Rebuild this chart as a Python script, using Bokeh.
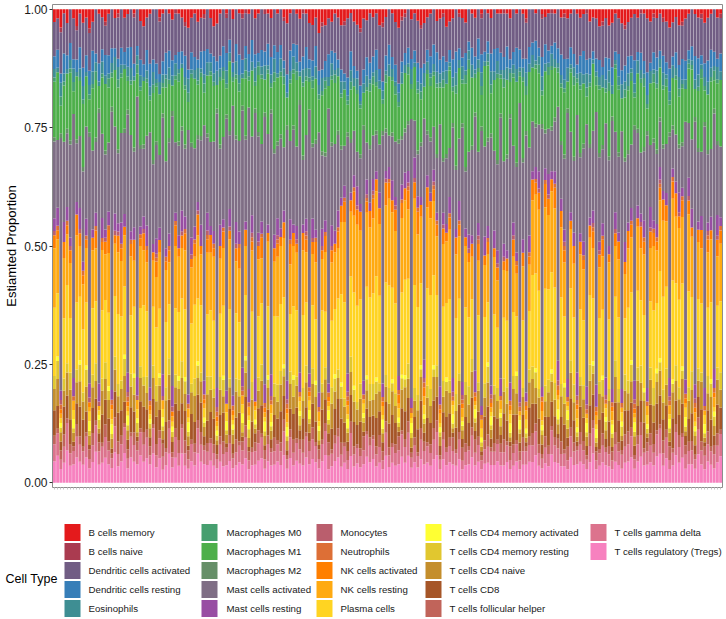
from bokeh.plotting import figure
from bokeh.models import Range1d, FixedTicker, ColumnDataSource, NumeralTickFormatter
from bokeh.layouts import column
from bokeh.embed import file_html
from bokeh.resources import INLINE
from bokeh.core.properties import value

cell_types = [
    "B cells memory", "B cells naive", "Dendritic cells activated", "Dendritic cells resting",
    "Eosinophils", "Macrophages M0", "Macrophages M1", "Macrophages M2",
    "Mast cells activated", "Mast cells resting", "Monocytes", "Neutrophils",
    "NK cells activated", "NK cells resting", "Plasma cells", "T cells CD4 memory activated",
    "T cells CD4 memory resting", "T cells CD4 naive", "T cells CD8", "T cells follicular helper",
    "T cells gamma delta", "T cells regulatory (Tregs)",
]
colors = [
    "#E41A1C", "#AA3B50", "#715D84", "#377EB8", "#3E8E93", "#469F6F", "#4DAF4A", "#668F68",
    "#7F6E85", "#984EA3", "#BA5E6D", "#DD6F36", "#FF7F00", "#FFAA11", "#FFD422", "#FFFF33",
    "#E1C72F", "#C48E2C", "#A65628", "#C1645A", "#DC738D", "#F781BF",
]

# estimated proportions per sample (percent, rescaled per sample)
b_memory = [
    3,2,4,1,3,0,2,4,1,3, 2,4,3,0,1,2,3,1,0,2, 1,0,2,1,0,1,0,3,4,2, 1,0,0,2,1,0,1,2,0,1,
    2,3,4,2,1,3,2,1,0,2, 4,3,1,0,1,0,2,0,1,1, 0,1,0,2,1,0,0,1,2,0, 1,0,2,3,1,0,1,2,0,1,
    3,4,2,5,3,4,2,3,1,2, 4,3,2,1,3,4,5,2,3,1, 2,1,4,3,2,0,1,3,4,2, 1,0,2,1,3,4,3,2,1,0,
    3,2,1,4,3,2,0,1,2,3, 0,1,2,0,1,0,1,2,0,1, 1,0,1,2,0,1,0,1,2,0, 0,1,0,1,2,1,0,1,0,2,
    1,2,1,0,1,2,1,0,3,2, 2,4,3,2,4,3,1,2,3,4, 3,2,1,2,0,1,2,3,1,2, 1,2,3,4,3,2,4,3,2,1,
    0,1,2,1,3,2,1,0,2,1,
]
b_naive = [
    0,0,1,0,0,0,0,1,0,0, 0,1,0,0,0,0,1,0,0,0, 1,0,0,0,0,1,0,0,0,0, 0,0,0,1,0,0,0,0,1,0,
    0,1,0,0,0,0,0,1,0,0, 0,0,0,0,1,0,0,0,0,1, 1,0,0,0,0,0,1,0,0,0, 0,0,1,0,0,0,0,0,1,0,
    0,0,0,0,1,0,0,0,0,0, 0,1,0,0,0,0,1,0,0,0, 0,0,0,1,0,0,0,0,0,1, 1,0,0,0,0,1,0,0,0,0,
    0,0,1,0,0,0,0,1,0,0, 0,0,0,0,1,0,0,0,0,0, 0,1,0,0,0,0,0,0,1,0, 0,0,0,1,0,0,1,0,0,0,
    1,0,0,0,0,0,0,1,0,0, 0,0,1,0,0,0,0,0,0,1, 0,0,0,0,1,0,0,0,1,0, 0,1,0,0,0,0,0,1,0,0,
    0,0,0,1,0,0,0,0,0,1,
]
dc_activated = [
    8,7,9,10,7,8,9,7,8,10, 9,8,7,10,11,8,7,9,8,7, 10,9,8,7,9,11,8,10,9,8, 11,12,14,13,11,10,9,8,10,9,
    8,7,9,8,10,9,8,7,9,8, 7,8,10,9,8,7,9,8,10,9, 8,9,7,8,9,10,8,7,9,8, 9,8,10,11,9,8,7,9,10,8,
    8,9,7,8,10,9,8,7,9,10, 11,12,13,10,11,12,14,11,10,12, 10,9,11,12,10,9,11,10,12,11,
    9,10,8,9,11,10,9,8,10,9, 8,9,10,8,7,9,10,8,9,7, 7,8,9,7,8,9,7,8,9,8, 9,10,8,9,10,8,9,10,8,9,
    8,7,9,8,7,9,8,7,8,9, 10,9,8,10,11,9,8,10,9,8, 9,8,10,9,8,10,9,8,10,9,
    8,9,10,8,9,11,12,10,8,9, 9,8,10,9,8,9,10,8,9,8, 8,9,10,8,9,10,8,9,10,8,
]
dc_resting = [
    3,4,2,5,3,4,2,3,5,4, 4,3,5,2,4,3,5,4,3,2, 2,4,3,4,5,3,2,4,3,5, 5,3,4,2,3,5,4,3,2,4,
    3,5,2,4,3,2,4,5,3,2, 4,2,3,5,4,3,2,4,5,3, 3,4,5,3,2,4,3,5,4,3, 5,3,2,4,5,3,4,2,3,5,
    2,4,5,3,2,4,5,3,4,2, 3,2,4,5,3,2,4,3,5,4, 4,5,3,2,4,5,3,4,2,3, 3,4,2,3,5,4,2,3,4,5,
    5,3,4,2,3,4,5,3,2,4, 2,4,3,5,4,2,3,4,5,3, 4,3,5,2,3,5,4,2,3,4, 3,5,2,4,5,3,2,4,3,5,
    5,2,4,3,2,4,5,3,4,2, 3,4,2,5,3,4,2,5,3,4, 4,3,5,2,4,3,5,2,4,3, 2,4,3,5,2,4,3,5,4,2,
    3,5,4,2,3,5,4,3,2,4,
]
eosinophils = [
    2,1,3,2,1,2,3,1,2,3, 1,2,3,2,1,3,2,1,2,3, 3,2,1,2,3,1,2,3,1,2, 2,3,1,3,2,1,3,2,3,1,
    1,2,3,1,2,3,1,2,3,2, 2,3,2,1,3,2,1,3,2,1, 3,1,2,3,1,2,3,1,2,3, 1,3,2,1,2,3,2,1,3,2,
    2,1,3,2,3,1,2,3,1,2, 3,2,1,3,2,3,1,2,3,1, 1,3,2,2,1,3,2,1,2,3, 2,1,3,1,2,2,3,2,1,2,
    3,2,2,3,1,2,3,2,3,1, 2,3,1,2,3,1,2,3,2,3, 1,2,3,1,2,3,1,2,3,2, 3,1,2,3,2,1,3,2,1,2,
    2,3,1,2,1,3,2,3,2,1, 1,2,3,2,3,2,1,2,3,2, 3,1,2,3,2,1,2,3,1,3, 2,3,1,2,3,2,3,1,2,1,
    1,2,3,1,2,3,2,1,3,2,
]
macrophages_m0 = [
    1,0,2,1,0,1,2,0,1,1, 0,1,1,2,0,1,0,2,1,0, 2,1,0,1,1,0,2,1,0,1, 1,2,1,0,1,2,1,0,1,2,
    0,1,2,1,0,1,1,2,0,1, 1,0,1,2,1,0,1,1,2,0, 2,1,0,1,2,1,0,1,1,2, 0,1,2,0,1,1,2,0,1,1,
    1,2,0,1,1,2,0,1,2,0, 1,0,1,2,0,1,1,0,1,2, 2,1,0,1,2,0,1,2,1,0, 0,2,1,0,1,2,0,1,2,1,
    1,1,2,0,1,1,2,0,1,2, 2,0,1,1,2,0,1,2,0,1, 1,2,0,2,1,0,1,1,2,0, 0,1,2,1,0,2,1,0,1,1,
    1,0,1,2,1,1,0,2,1,0, 2,1,0,1,2,0,1,1,0,2, 1,2,1,0,1,2,1,0,2,1, 0,1,2,1,0,1,2,1,0,1,
    1,0,1,2,1,0,1,2,1,0,
]
macrophages_m1 = [
    13,15,6,14,12,16,5,15,13,14, 12,7,15,13,5,14,16,12,6,13, 15,13,14,6,12,16,5,14,15,13,
    7,16,14,15,6,17,13,5,15,14, 14,13,6,15,16,12,14,7,13,15, 13,5,15,14,6,16,5,13,12,6,
    14,6,15,5,13,16,7,14,5,15, 15,13,16,6,14,12,15,5,16,13, 6,14,15,7,13,16,5,15,14,13,
    12,14,6,13,11,15,12,7,14,13, 13,11,14,6,12,15,13,11,7,14, 14,12,6,13,15,11,7,14,12,13,
    17,8,18,16,19,7,17,18,9,19, 18,16,8,19,7,17,18,9,16,19, 8,17,18,7,16,19,6,17,8,18,
    13,14,12,6,15,13,14,12,7,13, 15,6,14,16,7,15,13,6,14,16, 6,15,14,7,16,5,15,14,7,15,
    14,15,6,13,16,14,5,15,13,14, 12,13,14,6,11,14,12,13,7,12, 15,6,14,16,7,13,15,6,14,15,
]
macrophages_m2 = [
    1,0,1,0,1,1,0,1,0,1, 0,1,0,1,1,0,1,0,1,0, 1,0,1,1,0,1,0,1,1,0, 0,1,1,0,1,0,1,1,0,1,
    1,1,0,1,0,1,1,0,1,0, 0,1,1,0,1,1,0,1,0,1, 1,0,0,1,1,0,1,0,1,1, 1,1,0,1,0,1,0,1,1,0,
    0,1,1,0,1,1,0,1,0,1, 1,0,1,1,0,0,1,1,0,1, 0,1,0,1,1,0,1,0,1,1, 1,1,0,0,1,1,0,1,1,0,
    1,0,1,1,0,1,1,0,1,1, 0,1,1,0,1,0,1,1,0,1, 1,0,1,1,0,1,0,1,1,0, 0,1,0,1,1,0,1,1,0,1,
    1,1,0,1,0,1,1,0,1,0, 0,1,1,0,1,1,0,1,0,1, 1,0,1,1,0,1,1,0,1,1, 1,1,0,1,1,0,1,1,0,0,
    0,1,1,0,1,1,0,1,1,0,
]
mast_activated = [
    18,15,55,20,16,22,58,14,17,20, 22,52,19,16,60,21,18,15,57,20, 17,21,19,54,23,18,61,20,16,22,
    56,19,24,18,59,20,22,53,17,21, 19,16,57,21,18,15,20,55,17,19, 21,58,18,20,62,17,60,19,22,56,
    20,63,18,59,22,19,57,21,60,18, 17,20,16,54,19,22,18,56,15,20, 58,18,21,55,17,16,61,19,20,18,
    12,10,52,13,11,9,12,54,10,13, 11,9,12,55,10,8,11,13,50,12, 10,12,56,9,11,13,53,10,12,11,
    14,57,13,15,12,55,14,16,58,13, 18,20,59,17,61,19,21,56,18,20, 60,19,22,58,18,20,62,17,57,21,
    12,10,11,54,9,11,10,12,52,13, 17,59,19,16,56,18,20,57,17,19, 61,20,18,58,21,60,19,17,55,20,
    16,15,54,17,14,16,56,15,18,16, 11,10,12,53,9,12,11,10,55,12, 15,56,17,14,58,16,15,54,17,16,
]
mast_resting = [
    3,4,2,5,3,2,4,3,5,2, 4,3,2,3,4,5,2,3,2,4, 2,5,3,4,2,3,4,2,3,5, 3,2,4,3,5,2,3,4,2,3,
    5,3,2,4,3,2,5,3,4,2, 3,4,5,2,3,4,2,5,3,4, 2,3,4,5,2,3,4,2,5,3, 4,2,3,4,5,2,3,4,2,3,
    3,5,2,3,4,3,2,5,3,4, 2,3,4,2,3,5,2,3,4,2, 3,2,4,3,2,3,5,2,3,4, 4,3,2,5,3,2,4,3,2,3,
    2,4,3,2,4,3,2,5,3,2, 3,2,5,3,2,4,3,2,4,3, 4,3,2,4,3,2,5,3,2,4, 2,3,4,2,3,5,2,3,4,3,
    3,4,2,3,5,2,3,4,2,3, 5,2,3,4,2,3,4,2,3,5, 2,3,4,3,2,4,3,5,2,3, 3,2,3,4,2,3,5,2,3,4,
    4,3,2,3,4,2,3,4,5,2,
]
monocytes = [
    1,0,1,0,0,1,0,0,1,0, 0,1,0,0,1,0,1,0,0,1, 1,0,0,1,0,0,1,0,1,0, 0,0,1,0,1,0,0,1,0,0,
    1,0,0,1,0,1,0,0,1,0, 0,1,0,0,0,1,0,1,0,1, 0,0,1,0,1,0,0,0,1,0, 1,0,0,1,0,0,1,0,0,1,
    0,1,0,0,1,0,0,1,0,0, 0,0,1,0,0,1,0,0,1,0, 1,0,0,0,1,0,0,1,0,0, 0,1,0,1,0,0,1,0,0,1,
    0,0,1,0,0,1,0,0,1,0, 1,0,0,1,0,0,0,1,0,1, 0,1,0,0,1,0,1,0,0,0, 0,0,1,0,0,1,0,0,1,0,
    1,0,0,0,1,0,0,1,0,1, 0,1,0,1,0,0,1,0,0,0, 0,0,1,0,1,0,0,1,0,0, 1,0,0,1,0,0,1,0,0,1,
    0,1,0,0,0,1,0,0,1,0,
]
neutrophils = [
    0,1,1,0,1,0,1,0,0,1, 1,0,0,1,0,1,0,1,1,0, 0,1,0,1,1,0,0,1,0,1, 1,0,1,0,0,1,1,0,1,0,
    0,1,1,0,1,0,0,1,1,0, 1,1,0,1,0,0,1,0,1,1, 0,1,1,0,0,1,1,0,1,0, 1,0,0,1,1,0,0,1,0,1,
    1,0,1,1,0,1,1,0,0,1, 0,1,1,0,1,0,0,1,1,0, 1,0,0,1,0,1,0,0,1,1, 0,1,1,0,1,0,1,0,0,1,
    1,1,0,0,1,1,0,1,1,0, 0,0,1,1,1,0,1,1,0,0, 1,0,0,1,0,1,1,0,1,1, 0,1,0,1,1,0,0,1,1,0,
    1,1,0,0,1,0,1,1,0,1, 1,0,1,1,0,1,0,0,1,0, 0,1,1,0,0,1,1,0,1,1, 1,0,0,1,1,0,0,1,1,0,
    0,1,0,0,1,1,0,1,0,1,
]
nk_activated = [
    3,2,1,4,2,3,0,5,3,2, 2,1,3,4,0,2,3,5,1,2, 4,3,2,1,3,5,0,2,4,3, 1,2,4,3,0,2,3,1,5,2,
    3,4,0,2,3,5,2,1,3,4, 2,1,3,4,0,2,1,3,5,0, 4,0,2,1,3,5,1,2,0,3, 3,2,4,1,5,3,2,0,4,3,
    1,3,5,0,2,4,1,3,2,4, 4,5,1,3,6,4,5,0,3,4, 5,3,4,1,6,4,3,5,2,4, 3,5,0,4,6,3,2,5,4,3,
    3,1,4,2,3,0,4,3,1,2, 2,3,1,4,0,2,3,1,2,3, 0,2,3,1,4,2,0,3,1,2, 5,3,4,2,6,4,3,5,1,4,
    3,0,2,4,1,3,2,0,3,4, 1,3,4,0,2,1,3,4,0,3, 4,3,1,2,5,3,0,4,3,2, 3,5,4,0,4,6,3,4,1,3,
    2,1,3,4,0,3,2,1,4,3,
]
nk_resting = [
    14,12,1,15,11,13,2,16,12,10, 13,1,14,12,1,15,11,13,2,12, 15,13,12,1,14,11,2,16,13,12,
    1,11,13,14,2,12,10,1,15,13, 12,14,2,13,11,15,12,1,14,13, 15,1,13,14,2,16,1,12,13,2,
    12,2,14,1,13,11,1,15,2,12, 14,13,15,2,12,14,13,1,15,12, 1,13,14,2,12,15,1,14,13,12,
    18,20,2,17,19,21,18,1,20,17, 19,21,18,2,20,22,19,17,1,20, 20,18,1,21,19,17,2,20,18,19,
    15,2,16,14,17,1,15,16,2,14, 12,10,1,13,2,11,12,1,13,11, 2,11,12,1,13,10,1,12,2,11,
    18,20,19,2,21,18,20,19,1,17, 13,1,14,12,2,13,11,1,14,12, 2,12,13,1,14,2,12,13,1,11,
    14,13,1,15,12,14,2,13,15,12, 17,18,16,2,19,17,18,16,1,17, 13,2,14,12,1,13,14,2,12,13,
]
plasma = [
    16,14,1,15,17,13,2,16,15,14, 15,2,16,14,1,17,15,16,1,14, 17,15,16,1,14,16,2,15,17,16,
    1,14,15,16,2,15,13,1,16,15, 15,16,1,14,17,15,16,2,14,15, 16,1,15,17,2,16,1,15,14,2,
    15,1,16,2,14,15,1,16,2,15, 16,15,17,1,14,16,15,2,17,15, 2,16,15,1,17,14,1,16,15,17,
    22,24,1,21,23,25,22,2,24,21, 23,25,22,1,24,26,23,21,2,22, 24,22,1,25,23,21,2,24,22,23,
    18,1,19,17,20,2,18,19,1,17, 15,14,1,16,2,14,15,1,16,14, 1,14,16,2,15,13,1,15,2,14,
    22,24,23,1,25,22,24,23,2,21, 16,1,17,15,2,16,14,1,17,15, 1,15,16,2,17,1,15,16,2,14,
    17,16,1,18,15,17,2,16,18,15, 21,22,20,1,23,21,22,20,2,21, 16,1,17,15,2,16,17,1,15,16,
]
cd4_mem_activated = [
    0,1,1,0,0,0,2,0,1,0, 1,2,0,0,1,0,0,1,2,0, 0,0,1,2,0,1,1,0,0,0, 1,0,0,1,2,0,0,1,0,1,
    0,1,2,0,0,1,0,1,0,0, 0,1,0,1,2,0,1,0,0,2, 1,2,0,1,0,0,2,1,1,0, 0,0,1,2,0,1,0,1,0,0,
    2,0,1,1,0,0,2,0,1,0, 1,0,2,0,1,0,0,1,1,0, 0,1,0,2,0,0,1,0,1,1, 1,0,2,0,0,1,1,0,0,1,
    0,1,0,1,0,2,0,0,1,0, 0,0,2,0,1,0,1,2,0,0, 1,0,0,2,0,1,2,0,1,0, 0,1,0,1,0,0,1,0,2,0,
    1,2,0,0,1,0,0,2,0,1, 2,0,1,1,0,2,0,0,1,0, 0,1,2,0,0,1,1,0,0,1, 1,0,0,2,1,0,0,1,2,0,
    0,1,0,0,2,0,1,1,0,0,
]
cd4_mem_resting = [
    3,4,1,3,2,4,1,3,4,2, 4,1,3,4,2,3,4,2,1,3, 3,2,4,1,3,4,2,3,2,4, 1,3,4,2,1,3,4,1,3,2,
    4,3,1,2,4,3,2,1,4,3, 2,1,3,4,1,2,1,3,4,2, 3,2,4,1,3,4,1,2,1,3, 4,3,2,1,3,4,2,2,3,4,
    1,4,3,2,2,3,1,4,3,2, 3,2,1,4,3,2,4,1,3,4, 4,3,2,1,3,4,2,3,1,3, 2,4,1,3,4,2,1,3,4,2,
    3,1,4,2,3,1,4,2,1,3, 4,3,1,2,1,3,4,1,2,3, 2,3,4,1,3,4,1,2,1,3, 3,4,2,1,4,3,2,4,1,3,
    4,2,3,4,1,2,3,1,4,2, 1,3,4,2,3,1,4,3,2,4, 3,4,1,3,4,2,1,3,4,2, 2,3,4,1,2,4,3,2,1,3,
    4,1,3,2,1,4,3,2,3,4,
]
cd4_naive = [
    5,6,2,4,5,7,2,5,6,4, 6,2,5,4,1,6,5,4,2,5, 4,5,6,2,5,4,1,6,5,4, 2,5,4,6,2,5,6,1,4,5,
    6,4,2,5,6,4,5,2,6,5, 5,1,6,4,2,5,2,6,4,1, 6,2,5,1,4,6,2,5,2,4, 4,6,5,2,6,4,5,1,4,6,
    2,5,6,1,4,5,2,6,4,5, 5,4,2,6,5,4,6,2,5,4, 4,6,5,2,4,5,6,4,1,5, 6,5,2,4,5,6,2,5,4,6,
    5,2,4,6,5,1,4,6,2,5, 4,6,2,5,1,4,6,2,5,4, 2,5,4,1,6,5,2,4,1,6, 6,4,5,2,4,6,5,4,2,5,
    5,2,6,4,1,5,4,2,6,5, 1,6,4,2,5,2,6,4,1,5, 4,5,2,6,4,5,1,6,4,5, 6,4,5,2,6,5,4,6,1,4,
    5,2,4,6,1,4,5,2,6,4,
]
cd8 = [
    6,5,2,7,5,6,1,5,7,6, 5,1,6,5,2,7,6,5,1,6, 7,6,5,2,6,5,1,7,6,5, 2,6,7,5,1,6,5,2,6,7,
    5,7,1,6,5,6,7,2,5,6, 6,2,5,7,1,6,2,5,7,1, 7,1,6,2,5,7,1,6,2,5, 5,7,6,1,5,6,7,2,5,6,
    2,6,5,1,7,6,2,5,6,7, 6,5,2,7,6,5,7,1,6,5, 5,7,6,2,5,6,7,5,1,6, 7,6,1,5,6,7,2,6,5,7,
    6,2,5,7,6,1,5,7,2,6, 5,7,2,6,1,5,7,2,6,5, 2,6,5,1,7,6,2,5,1,7, 7,5,6,2,5,7,6,5,1,6,
    6,2,7,5,1,6,5,2,7,6, 1,7,5,2,6,1,7,5,2,6, 5,6,2,7,5,6,1,7,5,6, 7,5,6,1,7,6,5,7,2,5,
    6,2,5,7,1,5,6,2,7,5,
]
tfh = [
    2,1,2,3,1,2,1,3,2,1, 1,2,3,1,2,1,3,2,1,2, 3,2,1,2,1,3,2,1,3,2, 2,1,3,2,3,1,2,1,2,3,
    1,3,2,1,2,2,3,1,2,1, 2,1,2,3,1,2,1,3,1,2, 3,2,1,2,3,1,2,2,1,3, 1,2,3,1,2,3,1,2,3,1,
    2,3,1,2,1,2,3,1,2,2, 3,1,2,3,2,1,2,3,1,2, 1,2,3,2,3,2,1,2,3,1, 2,3,1,2,1,3,2,1,2,3,
    3,1,2,1,2,3,1,2,3,2, 1,2,3,2,1,2,3,1,2,1, 2,3,1,3,2,1,2,3,1,2, 3,2,2,1,3,2,1,2,2,3,
    1,3,2,2,1,3,2,1,3,2, 2,1,3,1,2,2,3,2,1,3, 3,2,1,2,3,1,2,3,2,1, 1,3,2,3,1,2,3,1,2,2,
    2,1,3,2,2,3,1,2,3,1,
]
gamma_delta = [
    4,5,2,4,6,3,3,5,4,3, 5,2,4,6,3,4,5,3,2,6, 3,4,6,2,5,4,3,6,4,5, 2,6,3,5,3,3,6,2,5,3,
    6,3,2,4,3,6,4,3,3,4, 3,2,4,3,3,4,2,3,4,3, 5,2,3,3,4,5,2,4,3,3, 4,3,6,2,5,3,4,3,3,5,
    3,5,4,2,4,6,3,3,4,5, 3,4,2,6,3,4,3,3,6,4, 5,3,4,2,6,3,4,3,3,6, 4,6,2,4,3,5,3,4,3,5,
    6,2,5,3,4,3,3,5,2,3, 3,5,3,4,2,3,4,3,3,4, 3,3,4,2,3,4,2,3,3,4, 4,6,3,2,4,3,6,4,3,3,
    3,2,5,3,3,4,3,2,4,6, 2,3,4,3,3,2,4,3,3,4, 4,5,2,4,5,3,3,4,3,5, 6,3,5,2,3,6,4,5,3,3,
    3,2,6,3,3,4,3,3,4,5,
]
tregs = [
    5,6,3,5,7,4,4,6,5,4, 6,3,5,7,4,5,6,4,3,7, 4,5,7,3,6,5,4,7,5,6, 4,7,4,6,3,4,7,3,6,4,
    7,4,3,5,4,7,5,4,4,5, 4,3,5,4,4,5,3,4,5,4, 6,3,4,4,5,6,3,5,4,4, 5,4,7,3,6,4,5,4,4,6,
    4,6,5,3,5,7,3,4,5,6, 4,5,3,7,4,5,4,4,7,5, 6,4,5,3,7,4,5,4,4,7, 5,7,3,5,4,6,4,5,4,6,
    7,3,6,4,5,4,4,6,3,4, 4,6,4,5,3,4,5,4,4,5, 4,4,5,3,4,5,3,4,4,5, 5,7,4,3,5,4,7,5,4,4,
    4,3,6,4,4,5,4,3,5,7, 3,4,5,4,4,3,5,4,3,5, 5,6,3,5,6,4,4,5,4,6, 7,4,6,3,4,7,5,6,3,4,
    4,3,7,4,3,5,4,3,5,6,
]

series = [
    b_memory, b_naive, dc_activated, dc_resting, eosinophils, macrophages_m0, macrophages_m1,
    macrophages_m2, mast_activated, mast_resting, monocytes, neutrophils, nk_activated,
    nk_resting, plasma, cd4_mem_activated, cd4_mem_resting, cd4_naive, cd8, tfh,
    gamma_delta, tregs,
]
y_ticks = [0, 0.25, 0.5, 0.75, 1.0]
legend_title = "Cell Type"
y_title = "Estiamted Proportion"

n = len(b_memory)
samples = list(range(1, n + 1))
keys = ["c%d" % k for k in range(len(cell_types))]
totals = [sum(s[i] for s in series) for i in range(n)]
data = {"x": samples}
for key, s in zip(keys, series):
    data[key] = [s[i] / totals[i] for i in range(n)]
src = ColumnDataSource(data)

FONT = "Liberation Sans"
W = 724
MAIN_H = 495
LEG_H = 122

p = figure(width=W, height=MAIN_H, x_range=Range1d(0.4, n + 0.6), y_range=Range1d(-0.01, 1.01),
           output_backend="svg", toolbar_location=None,
           min_border_left=52, min_border_right=2, min_border_top=4, min_border_bottom=8)
p.frame_align = False
p.vbar_stack(keys[::-1], x="x", width=0.9, source=src,
             fill_color=colors[::-1], line_color=None)

p.xgrid.grid_line_color = None
p.ygrid.grid_line_color = None
p.outline_line_color = "#8c8c8c"
p.outline_line_width = 1
p.background_fill_color = "white"

p.yaxis.ticker = FixedTicker(ticks=y_ticks)
p.yaxis.formatter = NumeralTickFormatter(format="0.00")
p.yaxis.axis_line_color = None
p.yaxis.major_tick_in = 0
p.yaxis.major_tick_out = 3
p.yaxis.minor_tick_line_color = None
p.yaxis.major_tick_line_color = "#333333"
p.yaxis.major_label_text_font = FONT
p.yaxis.major_label_text_font_size = "12px"
p.yaxis.major_label_text_color = "#1a1a1a"
p.yaxis.major_label_standoff = 2
p.yaxis.axis_label = y_title
p.yaxis.axis_label_text_font = FONT
p.yaxis.axis_label_text_font_size = "13px"
p.yaxis.axis_label_text_font_style = "normal"
p.yaxis.axis_label_text_color = "#000000"
p.yaxis.axis_label_standoff = 2

p.xaxis.ticker = FixedTicker(ticks=samples)
p.xaxis.major_label_overrides = {s: "" for s in samples}
p.xaxis.major_label_text_font_size = "0px"
p.xaxis.major_label_standoff = 0
p.xaxis.axis_line_color = None
p.xaxis.major_tick_in = 0
p.xaxis.major_tick_out = 2
p.xaxis.major_tick_line_color = "#c8c8c8"
p.xaxis.minor_tick_line_color = None

# legend panel (coordinates in page pixels)
leg = figure(width=W, height=LEG_H, x_range=Range1d(0, W),
             y_range=Range1d(MAIN_H + LEG_H, MAIN_H),
             output_backend="svg", toolbar_location=None,
             x_axis_location=None, y_axis_location=None,
             min_border_left=0, min_border_right=0, min_border_top=0, min_border_bottom=0)
leg.frame_align = False
leg.xgrid.visible = False
leg.ygrid.visible = False
leg.outline_line_color = None

key_cx = [72, 209, 324, 433, 598]
text_x = [88, 226, 340, 449, 614]
row_cy = [532, 551, 570, 589, 608]
kx, ky, tx, ty = [], [], [], []
for k in range(len(cell_types)):
    c, r = divmod(k, 5)
    kx.append(key_cx[c]); ky.append(row_cy[r])
    tx.append(text_x[c]); ty.append(row_cy[r])
leg.rect(x=kx, y=ky, width=16, height=17, fill_color=colors, line_color=None)
leg.text(x=tx, y=ty, text=cell_types, text_font=value(FONT), text_font_size="9.7px",
         text_baseline="middle", text_align="left", text_color="#1a1a1a")
leg.text(x=[5], y=[578], text=[legend_title], text_font=value(FONT), text_font_size="12.5px",
         text_baseline="middle", text_align="left", text_color="#000000")

layout = column(p, leg, spacing=0)
open("out.html", "w").write(file_html(layout, INLINE))
